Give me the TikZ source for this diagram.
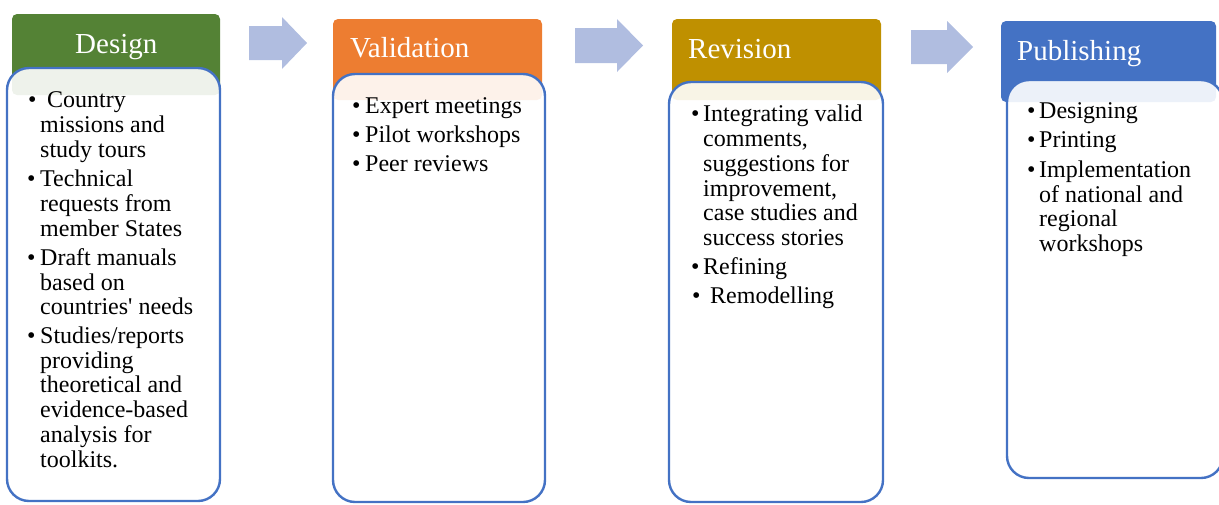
\documentclass[tikz,border=0pt]{standalone}
\usepackage{fontspec}
\setmainfont{Liberation Serif}
\definecolor{cgreen}{HTML}{548235}
\definecolor{corange}{HTML}{ED7D31}
\definecolor{cgold}{HTML}{BF9000}
\definecolor{cblue}{HTML}{4472C4}
\definecolor{carrow}{HTML}{B0BDE0}
\tikzset{
  header/.style={rounded corners=5pt},
  listbox/.style={draw=cblue, line width=2.4pt, fill=white, fill opacity=0.9, rounded corners=22pt},
  blockarrow/.style={fill=carrow},
  title/.style={anchor=base west, inner sep=0pt, text=white, font=\fontsize{29}{34}\selectfont},
  txt/.style={anchor=base west, inner sep=0pt, font=\fontsize{24}{28}\selectfont},
  bul/.style={anchor=base west, inner sep=0pt, font=\fontsize{24}{28}\selectfont}
}
\begin{document}
\begin{tikzpicture}[x=1pt,y=-1pt]
\useasboundingbox (0,0) rectangle (1219,504);
% headers
\fill[header, cgreen] (12,14) rectangle (220,95);
\fill[header, corange] (333,19) rectangle (542,100);
\fill[header, cgold] (672,19) rectangle (881,100);
\fill[header, cblue] (1001,21) rectangle (1216,102);
% list boxes
\path[listbox] (7,68) rectangle (220,501);
\path[listbox] (333,74) rectangle (545,502);
\path[listbox] (669,82) rectangle (883,502);
\path[listbox] (1007,80) rectangle (1223,478);
% arrows
\fill[blockarrow] (249,26) -- (282,26) -- (282,17) -- (307,43) -- (282,69) -- (282,60) -- (249,60) -- cycle;
\fill[blockarrow] (575,28) -- (617,28) -- (617,19) -- (643,45.5) -- (617,72) -- (617,63) -- (575,63) -- cycle;
\fill[blockarrow] (911,30) -- (947,30) -- (947,21) -- (973,47) -- (947,73) -- (947,64) -- (911,64) -- cycle;
% titles
\node[title] (t1) at (75,53) {Design};
\node[title] (t2) at (350,57) {Validation};
\node[title] (t3) at (688,58) {Revision};
\node[title] (t4) at (1017,60) {Publishing};
% Design list
\node[bul] (db1) at (28,107) {\textbullet};
\node[txt] (d1) at (47,107) {Country};
\node[txt] (d2) at (40,132) {missions and};
\node[txt] (d3) at (40,157) {study tours};
\node[bul] (db2) at (27,186) {\textbullet};
\node[txt] (d4) at (40,186) {Technical};
\node[txt] (d5) at (40,211) {requests from};
\node[txt] (d6) at (40,236) {member States};
\node[bul] (db3) at (27,265) {\textbullet};
\node[txt] (d7) at (40,265) {Draft manuals};
\node[txt] (d8) at (40,290) {based on};
\node[txt] (d9) at (40,314) {countries\textquotesingle{} needs};
\node[bul] (db4) at (27,343) {\textbullet};
\node[txt] (d10) at (40,343) {Studies/reports};
\node[txt] (d11) at (40,368) {providing};
\node[txt] (d12) at (40,392) {theoretical and};
\node[txt] (d13) at (40,417) {evidence-based};
\node[txt] (d14) at (40,442) {analysis for};
\node[txt] (d15) at (40,467) {toolkits.};
% Validation list
\node[bul] (vb1) at (352,113) {\textbullet};
\node[txt] (v1) at (365,113) {Expert meetings};
\node[bul] (vb2) at (352,142) {\textbullet};
\node[txt] (v2) at (365,142) {Pilot workshops};
\node[bul] (vb3) at (352,171) {\textbullet};
\node[txt] (v3) at (365,171) {Peer reviews};
% Revision list
\node[bul] (rb1) at (691,121) {\textbullet};
\node[txt] (r1) at (703,121) {Integrating valid};
\node[txt] (r2) at (703,146) {comments,};
\node[txt] (r3) at (703,171) {suggestions for};
\node[txt] (r4) at (703,196) {improvement,};
\node[txt] (r5) at (703,220) {case studies and};
\node[txt] (r6) at (703,245) {success stories};
\node[bul] (rb2) at (691,274) {\textbullet};
\node[txt] (r7) at (703,274) {Refining};
\node[bul] (rb3) at (692,303) {\textbullet};
\node[txt] (r8) at (710,303) {Remodelling};
% Publishing list
\node[bul] (pb1) at (1027,118) {\textbullet};
\node[txt] (p1) at (1039,118) {Designing};
\node[bul] (pb2) at (1027,147) {\textbullet};
\node[txt] (p2) at (1039,147) {Printing};
\node[bul] (pb3) at (1027,177) {\textbullet};
\node[txt] (p3) at (1039,177) {Implementation};
\node[txt] (p4) at (1039,202) {of national and};
\node[txt] (p5) at (1039,226) {regional};
\node[txt] (p6) at (1039,251) {workshops};
\end{tikzpicture}
\end{document}
